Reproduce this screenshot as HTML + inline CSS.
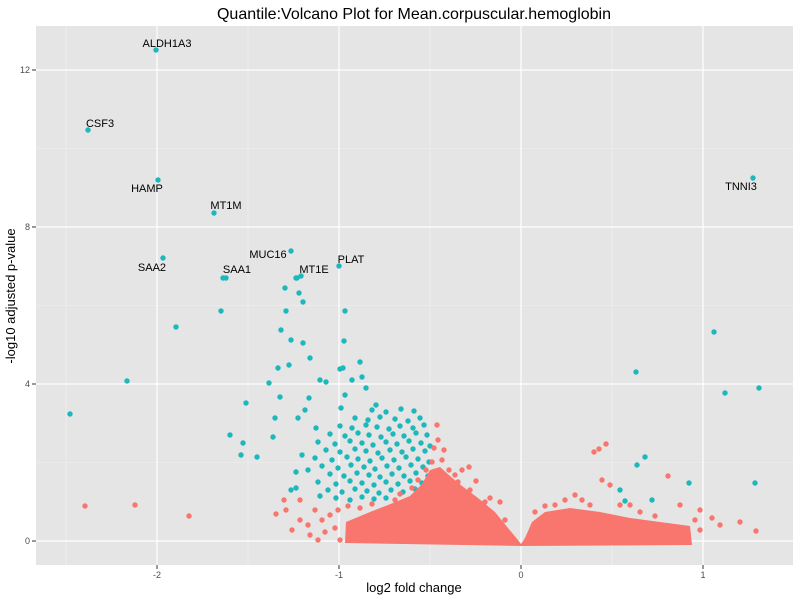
<!DOCTYPE html>
<html><head><meta charset="utf-8"><style>
body{margin:0;background:#fff;}
svg{display:block;font-family:"Liberation Sans",sans-serif;}
</style></head><body>
<svg width="800" height="600" xmlns="http://www.w3.org/2000/svg">
<rect x="36" y="26" width="757" height="539" fill="#e5e5e5"/>
<g stroke="#f2f2f2" stroke-width="0.6">
<line x1="36" x2="793" y1="462.5" y2="462.5"/><line x1="36" x2="793" y1="305.5" y2="305.5"/><line x1="36" x2="793" y1="148.5" y2="148.5"/>
<line y1="26" y2="565" x1="66" x2="66"/><line y1="26" y2="565" x1="248" x2="248"/><line y1="26" y2="565" x1="430" x2="430"/><line y1="26" y2="565" x1="612" x2="612"/>
</g>
<g stroke="#fff" stroke-width="1.2">
<line x1="36" x2="793" y1="541" y2="541"/><line x1="36" x2="793" y1="384" y2="384"/><line x1="36" x2="793" y1="227" y2="227"/><line x1="36" x2="793" y1="70" y2="70"/>
<line y1="26" y2="565" x1="157" x2="157"/><line y1="26" y2="565" x1="339" x2="339"/><line y1="26" y2="565" x1="521" x2="521"/><line y1="26" y2="565" x1="703" x2="703"/>
</g>
<g fill="#1cb8bb">
<circle cx="372" cy="410" r="2.7"/><circle cx="386" cy="412" r="2.7"/><circle cx="401" cy="409" r="2.7"/><circle cx="414" cy="411" r="2.7"/>
<circle cx="355" cy="418" r="2.7"/><circle cx="368" cy="420" r="2.7"/><circle cx="380" cy="417" r="2.7"/><circle cx="395" cy="419" r="2.7"/><circle cx="408" cy="421" r="2.7"/><circle cx="420" cy="418" r="2.7"/>
<circle cx="340" cy="426" r="2.7"/><circle cx="352" cy="428" r="2.7"/><circle cx="366" cy="425" r="2.7"/><circle cx="377" cy="427" r="2.7"/><circle cx="389" cy="429" r="2.7"/><circle cx="400" cy="426" r="2.7"/><circle cx="413" cy="428" r="2.7"/><circle cx="424" cy="425" r="2.7"/>
<circle cx="330" cy="434" r="2.7"/><circle cx="345" cy="436" r="2.7"/><circle cx="358" cy="433" r="2.7"/><circle cx="369" cy="435" r="2.7"/><circle cx="381" cy="437" r="2.7"/><circle cx="393" cy="434" r="2.7"/><circle cx="404" cy="436" r="2.7"/><circle cx="416" cy="433" r="2.7"/><circle cx="427" cy="435" r="2.7"/>
<circle cx="318" cy="442" r="2.7"/><circle cx="335" cy="444" r="2.7"/><circle cx="350" cy="441" r="2.7"/><circle cx="362" cy="443" r="2.7"/><circle cx="373" cy="445" r="2.7"/><circle cx="386" cy="442" r="2.7"/><circle cx="397" cy="444" r="2.7"/><circle cx="409" cy="441" r="2.7"/><circle cx="421" cy="443" r="2.7"/><circle cx="430" cy="446" r="2.7"/>
<circle cx="326" cy="450" r="2.7"/><circle cx="340" cy="452" r="2.7"/><circle cx="355" cy="449" r="2.7"/><circle cx="366" cy="451" r="2.7"/><circle cx="378" cy="453" r="2.7"/><circle cx="390" cy="450" r="2.7"/><circle cx="402" cy="452" r="2.7"/><circle cx="413" cy="449" r="2.7"/><circle cx="425" cy="451" r="2.7"/>
<circle cx="315" cy="458" r="2.7"/><circle cx="332" cy="460" r="2.7"/><circle cx="347" cy="457" r="2.7"/><circle cx="358" cy="459" r="2.7"/><circle cx="370" cy="461" r="2.7"/><circle cx="382" cy="458" r="2.7"/><circle cx="394" cy="460" r="2.7"/><circle cx="406" cy="457" r="2.7"/><circle cx="418" cy="459" r="2.7"/><circle cx="429" cy="462" r="2.7"/>
<circle cx="322" cy="466" r="2.7"/><circle cx="338" cy="468" r="2.7"/><circle cx="351" cy="465" r="2.7"/><circle cx="364" cy="467" r="2.7"/><circle cx="375" cy="469" r="2.7"/><circle cx="387" cy="466" r="2.7"/><circle cx="399" cy="468" r="2.7"/><circle cx="411" cy="465" r="2.7"/><circle cx="423" cy="467" r="2.7"/>
<circle cx="330" cy="474" r="2.7"/><circle cx="344" cy="476" r="2.7"/><circle cx="357" cy="473" r="2.7"/><circle cx="369" cy="475" r="2.7"/><circle cx="380" cy="477" r="2.7"/><circle cx="392" cy="474" r="2.7"/><circle cx="404" cy="476" r="2.7"/><circle cx="416" cy="473" r="2.7"/><circle cx="428" cy="476" r="2.7"/>
<circle cx="318" cy="482" r="2.7"/><circle cx="336" cy="484" r="2.7"/><circle cx="350" cy="481" r="2.7"/><circle cx="362" cy="483" r="2.7"/><circle cx="374" cy="485" r="2.7"/><circle cx="386" cy="482" r="2.7"/><circle cx="398" cy="484" r="2.7"/><circle cx="410" cy="481" r="2.7"/><circle cx="422" cy="483" r="2.7"/>
<circle cx="328" cy="490" r="2.7"/><circle cx="342" cy="492" r="2.7"/><circle cx="355" cy="489" r="2.7"/><circle cx="367" cy="491" r="2.7"/><circle cx="379" cy="493" r="2.7"/><circle cx="391" cy="490" r="2.7"/><circle cx="403" cy="492" r="2.7"/><circle cx="415" cy="489" r="2.7"/>
<circle cx="336" cy="498" r="2.7"/><circle cx="350" cy="500" r="2.7"/><circle cx="362" cy="497" r="2.7"/><circle cx="374" cy="499" r="2.7"/><circle cx="386" cy="498" r="2.7"/>
<circle cx="309" cy="398" r="2.7"/><circle cx="320" cy="380" r="2.7"/><circle cx="326" cy="382" r="2.7"/><circle cx="341" cy="408" r="2.7"/><circle cx="352" cy="380" r="2.7"/><circle cx="360" cy="362" r="2.7"/><circle cx="362" cy="377" r="2.7"/><circle cx="345" cy="395" r="2.7"/><circle cx="366" cy="388" r="2.7"/><circle cx="376" cy="405" r="2.7"/>
<circle cx="316" cy="428" r="2.7"/><circle cx="302" cy="455" r="2.7"/><circle cx="308" cy="470" r="2.7"/><circle cx="296" cy="472" r="2.7"/><circle cx="296" cy="488" r="2.7"/><circle cx="291" cy="490" r="2.7"/><circle cx="298" cy="418" r="2.7"/><circle cx="305" cy="410" r="2.7"/><circle cx="320" cy="496" r="2.7"/>
<circle cx="273" cy="437" r="2.7"/><circle cx="275" cy="418" r="2.7"/><circle cx="280" cy="397" r="2.7"/><circle cx="269" cy="383" r="2.7"/><circle cx="278" cy="368" r="2.7"/><circle cx="289" cy="365" r="2.7"/><circle cx="291" cy="340" r="2.7"/><circle cx="344" cy="341" r="2.7"/><circle cx="343" cy="368" r="2.7"/><circle cx="340" cy="369" r="2.7"/><circle cx="310" cy="358" r="2.7"/><circle cx="303" cy="343" r="2.7"/><circle cx="281" cy="330" r="2.7"/><circle cx="345" cy="311" r="2.7"/><circle cx="286" cy="311" r="2.7"/><circle cx="303" cy="302" r="2.7"/><circle cx="299" cy="293" r="2.7"/><circle cx="285" cy="288" r="2.7"/><circle cx="297" cy="278" r="2.7"/><circle cx="301" cy="276" r="2.7"/><circle cx="221" cy="311" r="2.7"/><circle cx="176" cy="327" r="2.7"/><circle cx="246" cy="403" r="2.7"/><circle cx="230" cy="435" r="2.7"/><circle cx="243" cy="443" r="2.7"/><circle cx="241" cy="455" r="2.7"/><circle cx="257" cy="457" r="2.7"/><circle cx="127" cy="381" r="2.7"/><circle cx="70" cy="414" r="2.7"/>
<circle cx="156" cy="50" r="2.7"/><circle cx="88" cy="130" r="2.7"/><circle cx="158" cy="180" r="2.7"/><circle cx="214" cy="213" r="2.7"/><circle cx="291" cy="251" r="2.7"/><circle cx="339" cy="266" r="2.7"/><circle cx="163" cy="258" r="2.7"/><circle cx="223" cy="278" r="2.7"/><circle cx="226" cy="278" r="2.7"/><circle cx="296" cy="278" r="2.7"/>
<circle cx="714" cy="332" r="2.7"/><circle cx="753" cy="178" r="2.7"/><circle cx="725" cy="393" r="2.7"/><circle cx="759" cy="388" r="2.7"/><circle cx="636" cy="372" r="2.7"/><circle cx="645" cy="457" r="2.7"/><circle cx="637" cy="465" r="2.7"/><circle cx="620" cy="490" r="2.7"/><circle cx="625" cy="501" r="2.7"/><circle cx="652" cy="500" r="2.7"/><circle cx="689" cy="483" r="2.7"/><circle cx="755" cy="483" r="2.7"/>
</g>
<path fill="#f8766d" d="M345,543 L346,522 L370,512 L393,503 L410,496 L422,484 L430,470 L440,467 L450,476 L462,486 L478,498 L495,512 L508,528 L518,540 L521,544 L525,538 L532,522 L545,512 L570,508 L600,512 L630,518 L660,522 L690,526 L692,545 L521,546 Z"/>
<g fill="#f8766d">
<circle cx="437" cy="425" r="2.7"/><circle cx="442" cy="460" r="2.7"/><circle cx="469" cy="467" r="2.7"/><circle cx="476" cy="481" r="2.7"/><circle cx="455" cy="475" r="2.7"/><circle cx="462" cy="470" r="2.7"/><circle cx="444" cy="450" r="2.7"/><circle cx="490" cy="498" r="2.7"/><circle cx="500" cy="502" r="2.7"/><circle cx="434" cy="448" r="2.7"/><circle cx="438" cy="440" r="2.7"/><circle cx="432" cy="462" r="2.7"/><circle cx="426" cy="470" r="2.7"/><circle cx="418" cy="480" r="2.7"/><circle cx="412" cy="488" r="2.7"/><circle cx="400" cy="494" r="2.7"/><circle cx="395" cy="500" r="2.7"/><circle cx="449" cy="470" r="2.7"/><circle cx="458" cy="482" r="2.7"/><circle cx="470" cy="490" r="2.7"/><circle cx="485" cy="502" r="2.7"/><circle cx="505" cy="520" r="2.7"/>
<circle cx="372" cy="504" r="2.7"/><circle cx="360" cy="508" r="2.7"/><circle cx="348" cy="506" r="2.7"/><circle cx="338" cy="510" r="2.7"/><circle cx="330" cy="515" r="2.7"/><circle cx="322" cy="520" r="2.7"/><circle cx="315" cy="510" r="2.7"/><circle cx="308" cy="525" r="2.7"/><circle cx="300" cy="520" r="2.7"/><circle cx="292" cy="530" r="2.7"/><circle cx="286" cy="510" r="2.7"/><circle cx="276" cy="514" r="2.7"/><circle cx="284" cy="500" r="2.7"/><circle cx="300" cy="500" r="2.7"/><circle cx="310" cy="535" r="2.7"/><circle cx="325" cy="532" r="2.7"/><circle cx="335" cy="528" r="2.7"/><circle cx="318" cy="540" r="2.7"/><circle cx="340" cy="540" r="2.7"/>
<circle cx="85" cy="506" r="2.7"/><circle cx="135" cy="505" r="2.7"/><circle cx="189" cy="516" r="2.7"/>
<circle cx="594" cy="452" r="2.7"/><circle cx="599" cy="449" r="2.7"/><circle cx="606" cy="444" r="2.7"/><circle cx="602" cy="480" r="2.7"/><circle cx="610" cy="485" r="2.7"/><circle cx="575" cy="495" r="2.7"/><circle cx="582" cy="500" r="2.7"/><circle cx="620" cy="505" r="2.7"/><circle cx="630" cy="505" r="2.7"/><circle cx="640" cy="512" r="2.7"/><circle cx="655" cy="516" r="2.7"/><circle cx="668" cy="476" r="2.7"/><circle cx="680" cy="505" r="2.7"/><circle cx="700" cy="510" r="2.7"/><circle cx="712" cy="518" r="2.7"/><circle cx="720" cy="525" r="2.7"/><circle cx="740" cy="522" r="2.7"/><circle cx="756" cy="531" r="2.7"/><circle cx="700" cy="530" r="2.7"/><circle cx="695" cy="520" r="2.7"/><circle cx="555" cy="505" r="2.7"/><circle cx="565" cy="500" r="2.7"/><circle cx="545" cy="506" r="2.7"/><circle cx="535" cy="512" r="2.7"/><circle cx="590" cy="505" r="2.7"/>
</g>
<g stroke="#333" stroke-width="1">
<line x1="32" x2="36" y1="541" y2="541"/><line x1="32" x2="36" y1="384" y2="384"/><line x1="32" x2="36" y1="227" y2="227"/><line x1="32" x2="36" y1="70" y2="70"/>
<line y1="565" y2="569" x1="157" x2="157"/><line y1="565" y2="569" x1="339" x2="339"/><line y1="565" y2="569" x1="521" x2="521"/><line y1="565" y2="569" x1="703" x2="703"/>
</g>
<g font-size="9" fill="#4d4d4d" text-anchor="end">
<text x="30" y="544">0</text><text x="30" y="387">4</text><text x="30" y="230">8</text><text x="30" y="73">12</text>
</g>
<g font-size="9" fill="#4d4d4d" text-anchor="middle">
<text x="157" y="578">-2</text><text x="339" y="578">-1</text><text x="521" y="578">0</text><text x="703" y="578">1</text>
</g>
<text x="414" y="592" font-size="13" text-anchor="middle">log2 fold change</text>
<text transform="translate(15,296) rotate(-90)" font-size="13" text-anchor="middle">-log10 adjusted p-value</text>
<text x="414" y="19" font-size="16" text-anchor="middle">Quantile:Volcano Plot for Mean.corpuscular.hemoglobin</text>
<g font-size="11" fill="#000" text-anchor="middle">
<text x="167" y="47">ALDH1A3</text><text x="100" y="127">CSF3</text><text x="147" y="192">HAMP</text>
<text x="226" y="209">MT1M</text><text x="268" y="258">MUC16</text><text x="351" y="263">PLAT</text>
<text x="152" y="271">SAA2</text><text x="237" y="273">SAA1</text><text x="314" y="273">MT1E</text><text x="741" y="190">TNNI3</text>
</g>
</svg>
</body></html>
